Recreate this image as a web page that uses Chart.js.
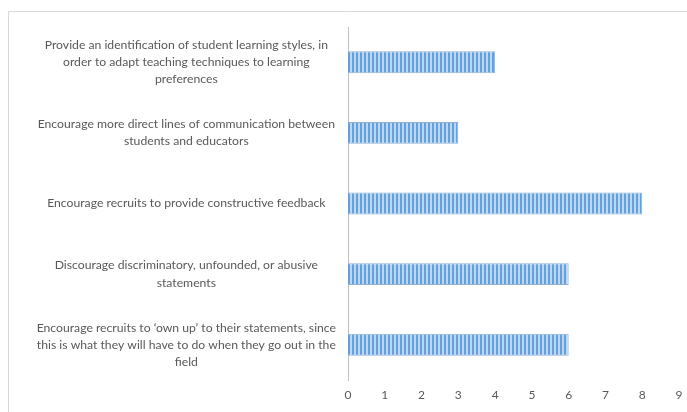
<!DOCTYPE html>
<html>
<head>
<meta charset="utf-8">
<script src="https://cdn.jsdelivr.net/npm/chart.js@4/dist/chart.umd.min.js"></script>
<style>
  html, body { margin: 0; padding: 0; background: #fff; }
  #wrap { position: relative; width: 687px; height: 412px; }
</style>
</head>
<body>
<div id="wrap"><canvas id="c" width="687" height="412"></canvas></div>
<script>
const categories = [
  ["Provide an identification of student learning styles, in", "order to adapt teaching techniques to learning", "preferences"],
  ["Encourage more direct lines of communication between", "students and educators"],
  "Encourage recruits to provide constructive feedback",
  ["Discourage discriminatory, unfounded, or abusive", "statements"],
  ["Encourage recruits to \u2018own up\u2019 to their statements, since", "this is what they will have to do when they go out in the", "field"]
];
const values = [4, 3, 8, 6, 6];
const xTicks = [0, 1, 2, 3, 4, 5, 6, 7, 8, 9];

function stripePattern() {
  const p = document.createElement('canvas');
  p.width = 4; p.height = 4;
  const g = p.getContext('2d');
  g.fillStyle = '#bcd7f1';
  g.fillRect(0, 0, 4, 4);
  g.fillStyle = '#64a0da';
  g.fillRect(0, 0, 2, 4);
  return g.createPattern(p, 'repeat');
}

const frame = {
  id: 'frame',
  beforeDraw(chart) {
    const ctx = chart.ctx;
    ctx.save();
    ctx.strokeStyle = '#d9d9d9';
    ctx.lineWidth = 1;
    ctx.beginPath();
    ctx.moveTo(8.5, 412);
    ctx.lineTo(8.5, 11.5);
    ctx.lineTo(687, 11.5);
    ctx.stroke();
    ctx.restore();
  }
};

new Chart(document.getElementById('c'), {
  type: 'bar',
  data: {
    labels: categories,
    datasets: [{
      data: values,
      backgroundColor: stripePattern(),
      borderColor: '#8fb0d4',
      borderWidth: 1,
      categoryPercentage: 0.62,
      barPercentage: 0.5
    }]
  },
  options: {
    indexAxis: 'y',
    responsive: false,
    animation: false,
    events: [],
    layout: { padding: { left: 8, right: 8, top: 27, bottom: 10 } },
    plugins: { legend: { display: false }, tooltip: { enabled: false } },
    scales: {
      x: {
        min: 0, max: 9,
        afterBuildTicks(scale) { scale.ticks = xTicks.map(v => ({ value: v })); },
        afterFit(scale) { scale.paddingLeft = 0; scale.paddingRight = 0; scale.height = 22; },
        grid: { display: false, drawTicks: false },
        border: { display: false },
        ticks: { color: '#595959', font: { family: 'Lato', size: 12 }, padding: 8 }
      },
      y: {
        afterFit(scale) { scale.width = 340; scale.paddingTop = 0; scale.paddingBottom = 0; },
        grid: { display: false, drawTicks: false },
        border: { display: true, color: '#bfbfbf' },
        ticks: {
          color: '#595959',
          crossAlign: 'center',
          padding: 12,
          font: { family: 'Lato', size: 12.2, lineHeight: 1.4 }
        }
      }
    }
  },
  plugins: [frame]
});
</script>
</body>
</html>
